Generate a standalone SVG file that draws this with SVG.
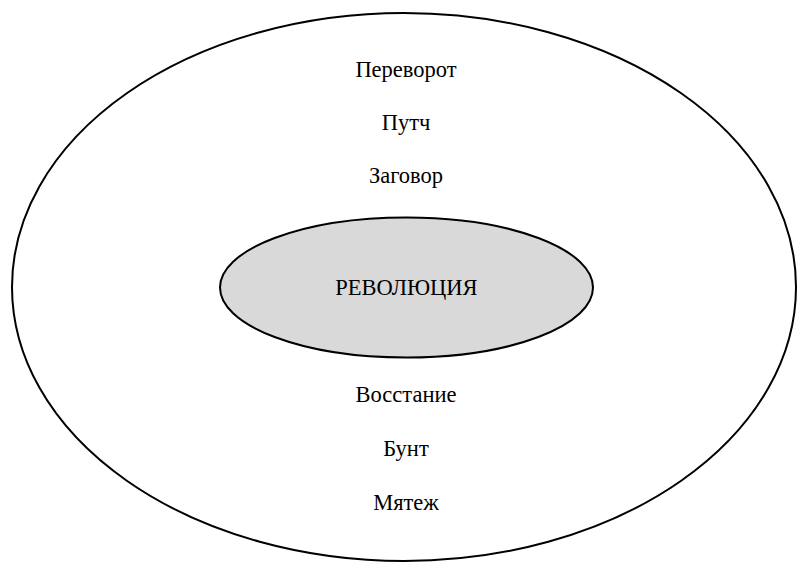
<svg xmlns="http://www.w3.org/2000/svg" width="797" height="562" viewBox="0 0 797 562">
<style>
.t{font-family:"Liberation Serif","Times New Roman",serif;font-size:22.5px;fill:#000;text-anchor:middle}
.e{stroke:#000;stroke-width:2}
</style>
<rect width="797" height="562" fill="#fff"/>
<g id="outer">
<ellipse class="e" cx="404" cy="287" rx="392" ry="274" fill="#fff"/>
<text class="t" x="406" y="77">Переворот</text>
<text class="t" x="406" y="130">Путч</text>
<text class="t" x="406" y="183">Заговор</text>
<text class="t" x="406" y="402">Восстание</text>
<text class="t" x="406" y="456">Бунт</text>
<text class="t" x="406" y="510">Мятеж</text>
</g>
<g id="revolution">
<ellipse class="e" cx="406.5" cy="287.5" rx="186.5" ry="70" fill="#d9d9d9"/>
<text class="t" x="406.5" y="295">РЕВОЛЮЦИЯ</text>
</g>
<g id="connectors"/>
</svg>
